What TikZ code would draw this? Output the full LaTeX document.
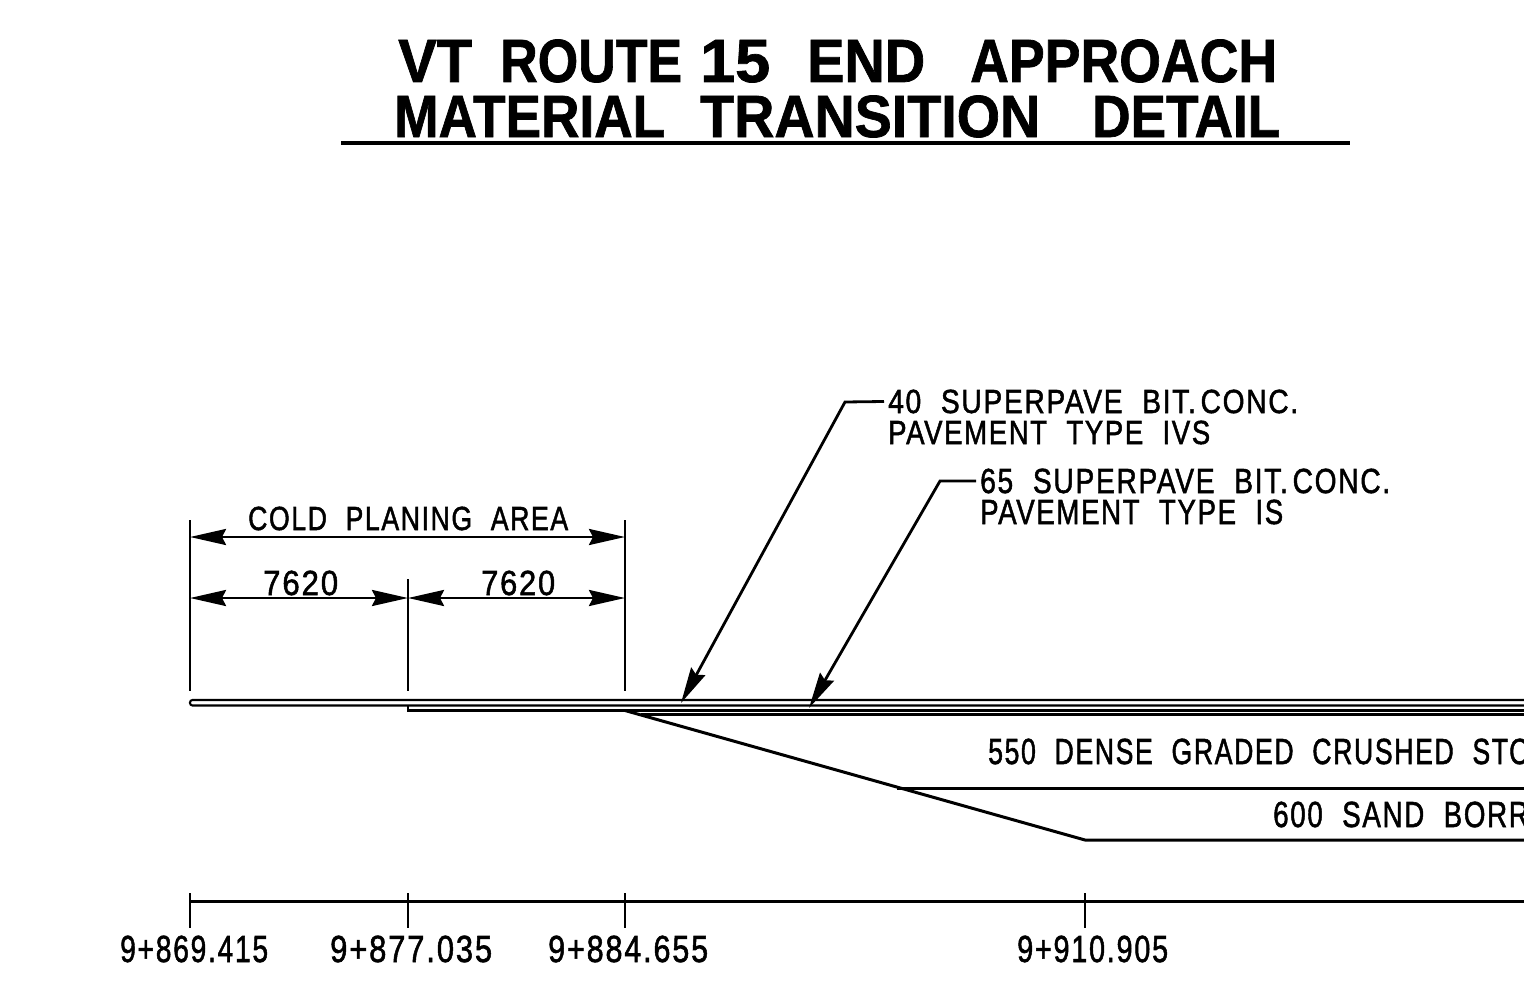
\documentclass[tikz,border=0pt]{standalone}
\usepackage{fontspec}
\setmainfont{Liberation Sans}
\newfontfamily\cadfont{Liberation Sans}[LetterSpace=6,FakeBold=1.6]
\newfontfamily\ttlfont{Liberation Sans Bold}[FakeBold=1.2]
\usepackage{graphicx}
\usetikzlibrary{arrows.meta}
\newcommand\wsp{\hspace{0.7em}}
\newcommand\fitw[3]{\begingroup\sbox0{#3}\sbox2{H}\pgfmathsetmacro\fsx{#1/(\the\wd0)}\pgfmathsetmacro\fsy{#2/(\the\ht2)}\scalebox{\fsx}[\fsy]{\usebox0}\endgroup}
\newcommand\fitp[4]{\begingroup\sbox0{#3}\sbox4{#3#4}\sbox2{H}\pgfmathsetmacro\fsx{#1/(\the\wd0)}\pgfmathsetmacro\fsy{#2/(\the\ht2)}\scalebox{\fsx}[\fsy]{\usebox4}\endgroup}
\tikzset{
  lbl/.style={anchor=base west, inner sep=0pt, font=\fontsize{30}{30}\selectfont\cadfont},
  ttl/.style={anchor=base west, inner sep=0pt, font=\fontsize{56}{56}\selectfont\ttlfont},
  cadtip/.tip={Stealth[length=36pt,width=16pt,inset=4pt]},
  dimline/.style={line width=2.8pt, cadtip-cadtip},
  leader/.style={line width=2.8pt, -cadtip},
  extline/.style={line width=2.6pt},
  pave/.style={line width=2.1pt},
  heavyline/.style={line width=3pt},
}
\begin{document}
\begin{tikzpicture}[x=1pt,y=-1pt]
\useasboundingbox (0,0) rectangle (1524,990);
\clip (0,0) rectangle (1524,990);
% ---------- title ----------
\node[ttl] (tVT) at (398,82) {\fitw{74}{42}{VT}};
\node[ttl] (tROUTE) at (500,82) {\fitw{182}{42}{ROUTE}};
\node[ttl] (t15) at (700,82) {\fitw{70}{42}{15}};
\node[ttl] (tEND) at (807,82) {\fitw{118}{42}{END}};
\node[ttl] (tAPP) at (970,82) {\fitw{307}{42}{APPROACH}};
\node[ttl] (tMAT) at (394,137) {\fitw{271}{41}{MATERIAL}};
\node[ttl] (tTRA) at (700,137) {\fitw{340}{41}{TRANSITION}};
\node[ttl] (tDET) at (1092,137) {\fitw{188}{41}{DETAIL}};
\draw[line width=3.2pt] (341,143) -- (1350,143);
% ---------- extension lines ----------
\coordinate (e1t) at (190,520); \coordinate (e1b) at (190,691);
\coordinate (e2t) at (408,579); \coordinate (e2b) at (408,691);
\coordinate (e3t) at (625,520); \coordinate (e3b) at (625,691);
\draw[extline] (e1t) -- (e1b);
\draw[extline] (e2t) -- (e2b);
\draw[extline] (e3t) -- (e3b);
% ---------- dimensions ----------
\coordinate (d1a) at (190,537); \coordinate (d1b) at (625,537);
\draw[dimline] (d1a) -- (d1b);
\node[lbl] (cold) at (248,530) {\fitw{320}{23}{COLD\wsp PLANING\wsp AREA}};
\coordinate (d2a) at (190,598); \coordinate (d2b) at (408,598);
\coordinate (d3a) at (408,598); \coordinate (d3b) at (625,598);
\draw[dimline] (d2a) -- (d2b);
\draw[dimline] (d3a) -- (d3b);
\node[lbl] (dimA) at (263,595) {\fitw{75}{24}{7620}};
\node[lbl] (dimB) at (481,595) {\fitw{74}{24}{7620}};
% ---------- pavement layers ----------
\draw[pave, rounded corners=2.5pt] (1530,705.5) -- (190,705.5) -- (190,700) -- (1530,700);
\draw[pave] (408,705.5) -- (408,710.5) -- (1530,710.5);
\draw[pave] (641,714.5) -- (1530,714.5);
\draw[heavyline] (625,710.5) -- (1085,840) -- (1530,840);
\draw[heavyline] (897,788) -- (1530,788);
\node[lbl] (l550) at (988,764) {\fitp{520}{25}{550\wsp DENSE\wsp GRADED\wsp CRUSHED\wsp ST}{ONE}};
\node[lbl] (l600) at (1273,827) {\fitp{234}{25}{600\wsp SAND\wsp BOR}{ROW}};
% ---------- leaders ----------
\node[lbl] (t40) at (888,413) {\fitw{410}{23}{40\wsp SUPERPAVE\wsp BIT.\,CONC.}};
\node[lbl] (t40b) at (888,444) {\fitw{322}{23}{PAVEMENT\wsp TYPE\wsp IVS}};
\node[lbl] (t65) at (980,493) {\fitw{410}{24}{65\wsp SUPERPAVE\wsp BIT.\,CONC.}};
\node[lbl] (t65b) at (980,524) {\fitw{303}{24}{PAVEMENT\wsp TYPE\wsp IS}};
\coordinate (k40) at (845,402); \coordinate (tip40) at (681,703);
\coordinate (k65) at (940,481); \coordinate (tip65) at (809,708);
\draw[leader] ([xshift=-4pt]t40.west) -- (k40) -- (tip40);
\draw[leader] ([xshift=-4pt]t65.west) -- (k65) -- (tip65);
% ---------- stations ----------
\draw[heavyline] (190,901) -- (1530,901);
\foreach \x in {190,408,625,1085} \draw[extline] (\x,893) -- (\x,928);
\node[lbl] (s1) at (120,962) {\fitw{148}{26}{9+869.415}};
\node[lbl] (s2) at (330,962) {\fitw{162}{26}{9+877.035}};
\node[lbl] (s3) at (548,962) {\fitw{160}{26}{9+884.655}};
\node[lbl] (s4) at (1017,962) {\fitw{151}{26}{9+910.905}};
\end{tikzpicture}
\end{document}
